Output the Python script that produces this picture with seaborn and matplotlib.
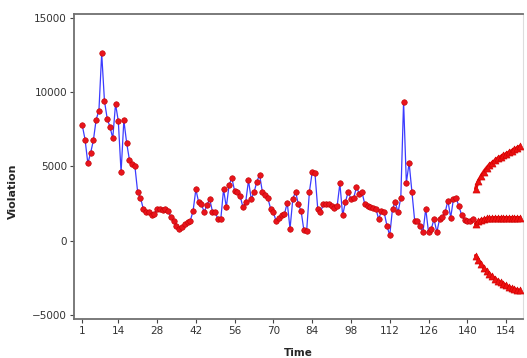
import numpy as np
import pandas as pd
import matplotlib
matplotlib.use("Agg")
import matplotlib.pyplot as plt
import seaborn as sns

# Observed monthly violation counts (t = 1..142)
violation = [
    7750, 6800, 5200, 5900, 6750, 8150, 8750, 12600, 9400, 8200,
    7650, 6900, 9200, 8050, 4600, 8100, 6600, 5450, 5150, 5000,
    3250, 2900, 2150, 1950, 1900, 1700, 1800, 2150, 2100, 2050,
    2100, 2000, 1600, 1350, 1000, 800, 950, 1150, 1250, 1350,
    2000, 3450, 2600, 2500, 1900, 2400, 2800, 1950, 1900, 1450,
    1450, 3450, 2250, 3750, 4200, 3350, 3250, 3000, 2250, 2600,
    4050, 2800, 3250, 3950, 4450, 3300, 3050, 2850, 2150, 1900,
    1300, 1550, 1700, 1800, 2550, 800, 2800, 3300, 2450, 2000,
    700, 650, 3300, 4600, 4550, 2150, 1900, 2450, 2450, 2450,
    2350, 2200, 2300, 3850, 1700, 2600, 3300, 2800, 2900, 3600,
    3150, 3250, 2450, 2350, 2250, 2200, 2150, 1450, 2000, 1900,
    1000, 350, 2150, 2600, 1900, 2900, 9350, 3900, 5250, 3300,
    1350, 1350, 1000, 570, 2150, 570, 800, 1450, 570, 1450,
    1600, 1900, 2700, 1550, 2800, 2850, 2300, 1700, 1400, 1350,
    1350, 1450,
]
time = list(range(1, len(violation) + 1))

# Forecast horizon (t = 143..159): point forecast and interval bounds
fc_time = list(range(143, 160))
fc_mid = [1150, 1300, 1400, 1450, 1500, 1520, 1540, 1550, 1550, 1550,
          1550, 1550, 1550, 1550, 1550, 1550, 1550]
fc_upper = [3500, 4000, 4350, 4650, 4900, 5100, 5250, 5400, 5550, 5650,
            5750, 5850, 5950, 6050, 6150, 6250, 6350]
fc_lower = [-1000, -1300, -1600, -1850, -2050, -2250, -2400, -2550, -2700,
            -2800, -2900, -3000, -3100, -3200, -3250, -3300, -3350]

x_ticks = [1, 14, 28, 42, 56, 70, 84, 98, 112, 126, 140, 154]
y_ticks = [-5000, 0, 5000, 10000, 15000]

obs = pd.DataFrame({"Time": time, "Violation": violation})
fc = pd.DataFrame({
    "Time": fc_time * 3,
    "Violation": fc_upper + fc_mid + fc_lower,
    "band": ["upper"] * len(fc_time) + ["mid"] * len(fc_time) + ["lower"] * len(fc_time),
})

sns.set_style("ticks")
fig = plt.figure(figsize=(5.27, 3.58), dpi=100)
ax = fig.add_axes([0.1404, 0.1089, 0.9918 - 0.1404, 0.9609 - 0.1089])

sns.lineplot(data=obs, x="Time", y="Violation", ax=ax, color="#3b3bff",
             linewidth=0.9, zorder=2)
sns.scatterplot(data=obs, x="Time", y="Violation", ax=ax, color="#e8141c",
                s=16, edgecolor="#c00000", linewidth=0.4, zorder=3)

sns.lineplot(data=fc, x="Time", y="Violation", units="band", estimator=None,
             ax=ax, color="#ee1111", linewidth=2.4, zorder=3)
sns.scatterplot(data=fc, x="Time", y="Violation", ax=ax, color="#ee1111",
                marker="^", s=26, edgecolor="#cc0000", linewidth=0.4, zorder=3)

ax.set_xlim(-2, 160)
ax.set_ylim(-5270, 15250)
ax.set_xticks(x_ticks)
ax.set_yticks(y_ticks)
ax.tick_params(axis="both", labelsize=7.5, colors="#444444", length=3,
               width=0.8, pad=2)
for lab in ax.get_xticklabels() + ax.get_yticklabels():
    lab.set_color("#333333")

for side in ["left", "bottom", "top"]:
    ax.spines[side].set_color("#707070")
    ax.spines[side].set_linewidth(1.3)
ax.spines["right"].set_color("#dddddd")
ax.spines["right"].set_linewidth(0.8)

ax.set_xlabel("Time", fontsize=7.5, fontweight="bold", labelpad=9)
ax.set_ylabel("Violation", fontsize=8, fontweight="bold", labelpad=8)
ax.yaxis.set_label_coords(-0.125, 0.42)

fig.savefig("out.png", dpi=100)
